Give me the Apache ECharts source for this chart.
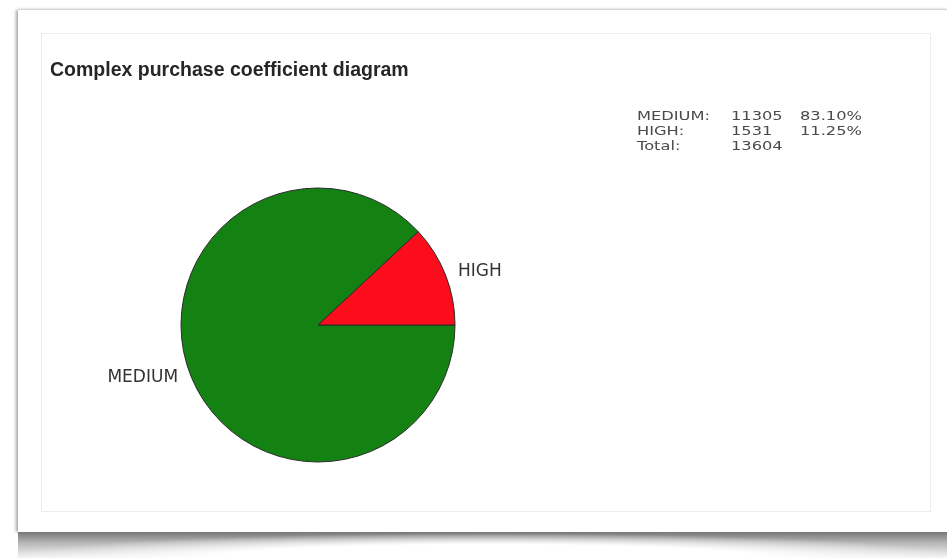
<!DOCTYPE html>
<html>
<head>
<meta charset="utf-8">
<script src="https://cdn.jsdelivr.net/npm/echarts@6/dist/echarts.min.js"></script>
<style>
  html, body { margin: 0; padding: 0; background: #fff; }
  #wrap { position: relative; width: 947px; height: 558px; overflow: hidden; background: #fff; }
  /* paper sheet with curled shadow */
  .sheet {
    position: absolute; left: 18px; top: 10px; width: 940px; height: 522px;
    background: #fff;
    box-shadow: -2px 0 3px rgba(0,0,0,0.35), 0 -1px 2px rgba(0,0,0,0.06);
  }
  .curl {
    position: absolute; left: 18px; top: 532px; width: 940px; height: 26px;
    background: linear-gradient(to bottom, #777 0%, #b4b4b4 40%, #f4f4f4 100%);
  }
  .curl:after {
    content: ''; position: absolute; left: 0; right: 0; top: 0; height: 26px;
    background: radial-gradient(ellipse 52% 95% at 50% 100%, #fff 55%, rgba(255,255,255,0) 100%);
  }
  .card {
    position: absolute; left: 41px; top: 33px; width: 888px; height: 477px;
    border: 1px solid #ececec; background: #fff;
  }
  #chart { position: absolute; left: 0; top: 0; width: 947px; height: 558px; }
</style>
</head>
<body>
<div id="wrap">
  <div class="sheet"></div>
  <div class="curl"></div>
  <div class="card"></div>
  <div id="chart"></div>
</div>
<script>
// data
const categories = ['MEDIUM', 'HIGH'];
const counts = [11305, 1531];
const total = 13604;
const sliceColors = ['#138213', '#fc0d1b'];

const chart = echarts.init(document.getElementById('chart'), null, { renderer: 'canvas' });

// stats table (top right), text is drawn a bit wide like the screenshot
const statRows = categories.map((c, i) => [c + ':', String(counts[i]), (counts[i] / total * 100).toFixed(2) + '%']);
statRows.push(['Total:', String(total), '']);
const colX = [637, 731, 800];
const statText = [];
statRows.forEach((row, r) => {
  row.forEach((cell, c) => {
    statText.push({
      type: 'text',
      x: colX[c],
      y: 110 + r * 15,
      scaleX: 1.25,
      style: { text: cell, fill: '#4a4a4a', font: '13px "DejaVu Sans", sans-serif' }
    });
  });
});

const option = {
  backgroundColor: 'transparent',
  animation: false,
  title: {
    text: 'Complex purchase coefficient diagram',
    left: 50,
    top: 61,
    padding: 0,
    textStyle: { fontFamily: '"Liberation Sans", Arial, sans-serif', fontSize: 19.5, fontWeight: 'bold', color: '#262626' }
  },
  graphic: statText,
  series: [{
    type: 'pie',
    center: [318, 325],
    radius: 137,
    startAngle: 0,
    clockwise: true,
    silent: true,
    label: {
      show: true,
      position: 'outside',
      color: '#333',
      fontFamily: '"DejaVu Sans", sans-serif',
      fontSize: 17,
      formatter: '{b}'
    },
    labelLine: { show: false, length: 8, length2: 0 },
    itemStyle: { borderColor: '#2a2a2a', borderWidth: 1 },
    data: categories.map((c, i) => ({ name: c, value: counts[i], itemStyle: { color: sliceColors[i] } }))
  }]
};
chart.setOption(option);
</script>
</body>
</html>
